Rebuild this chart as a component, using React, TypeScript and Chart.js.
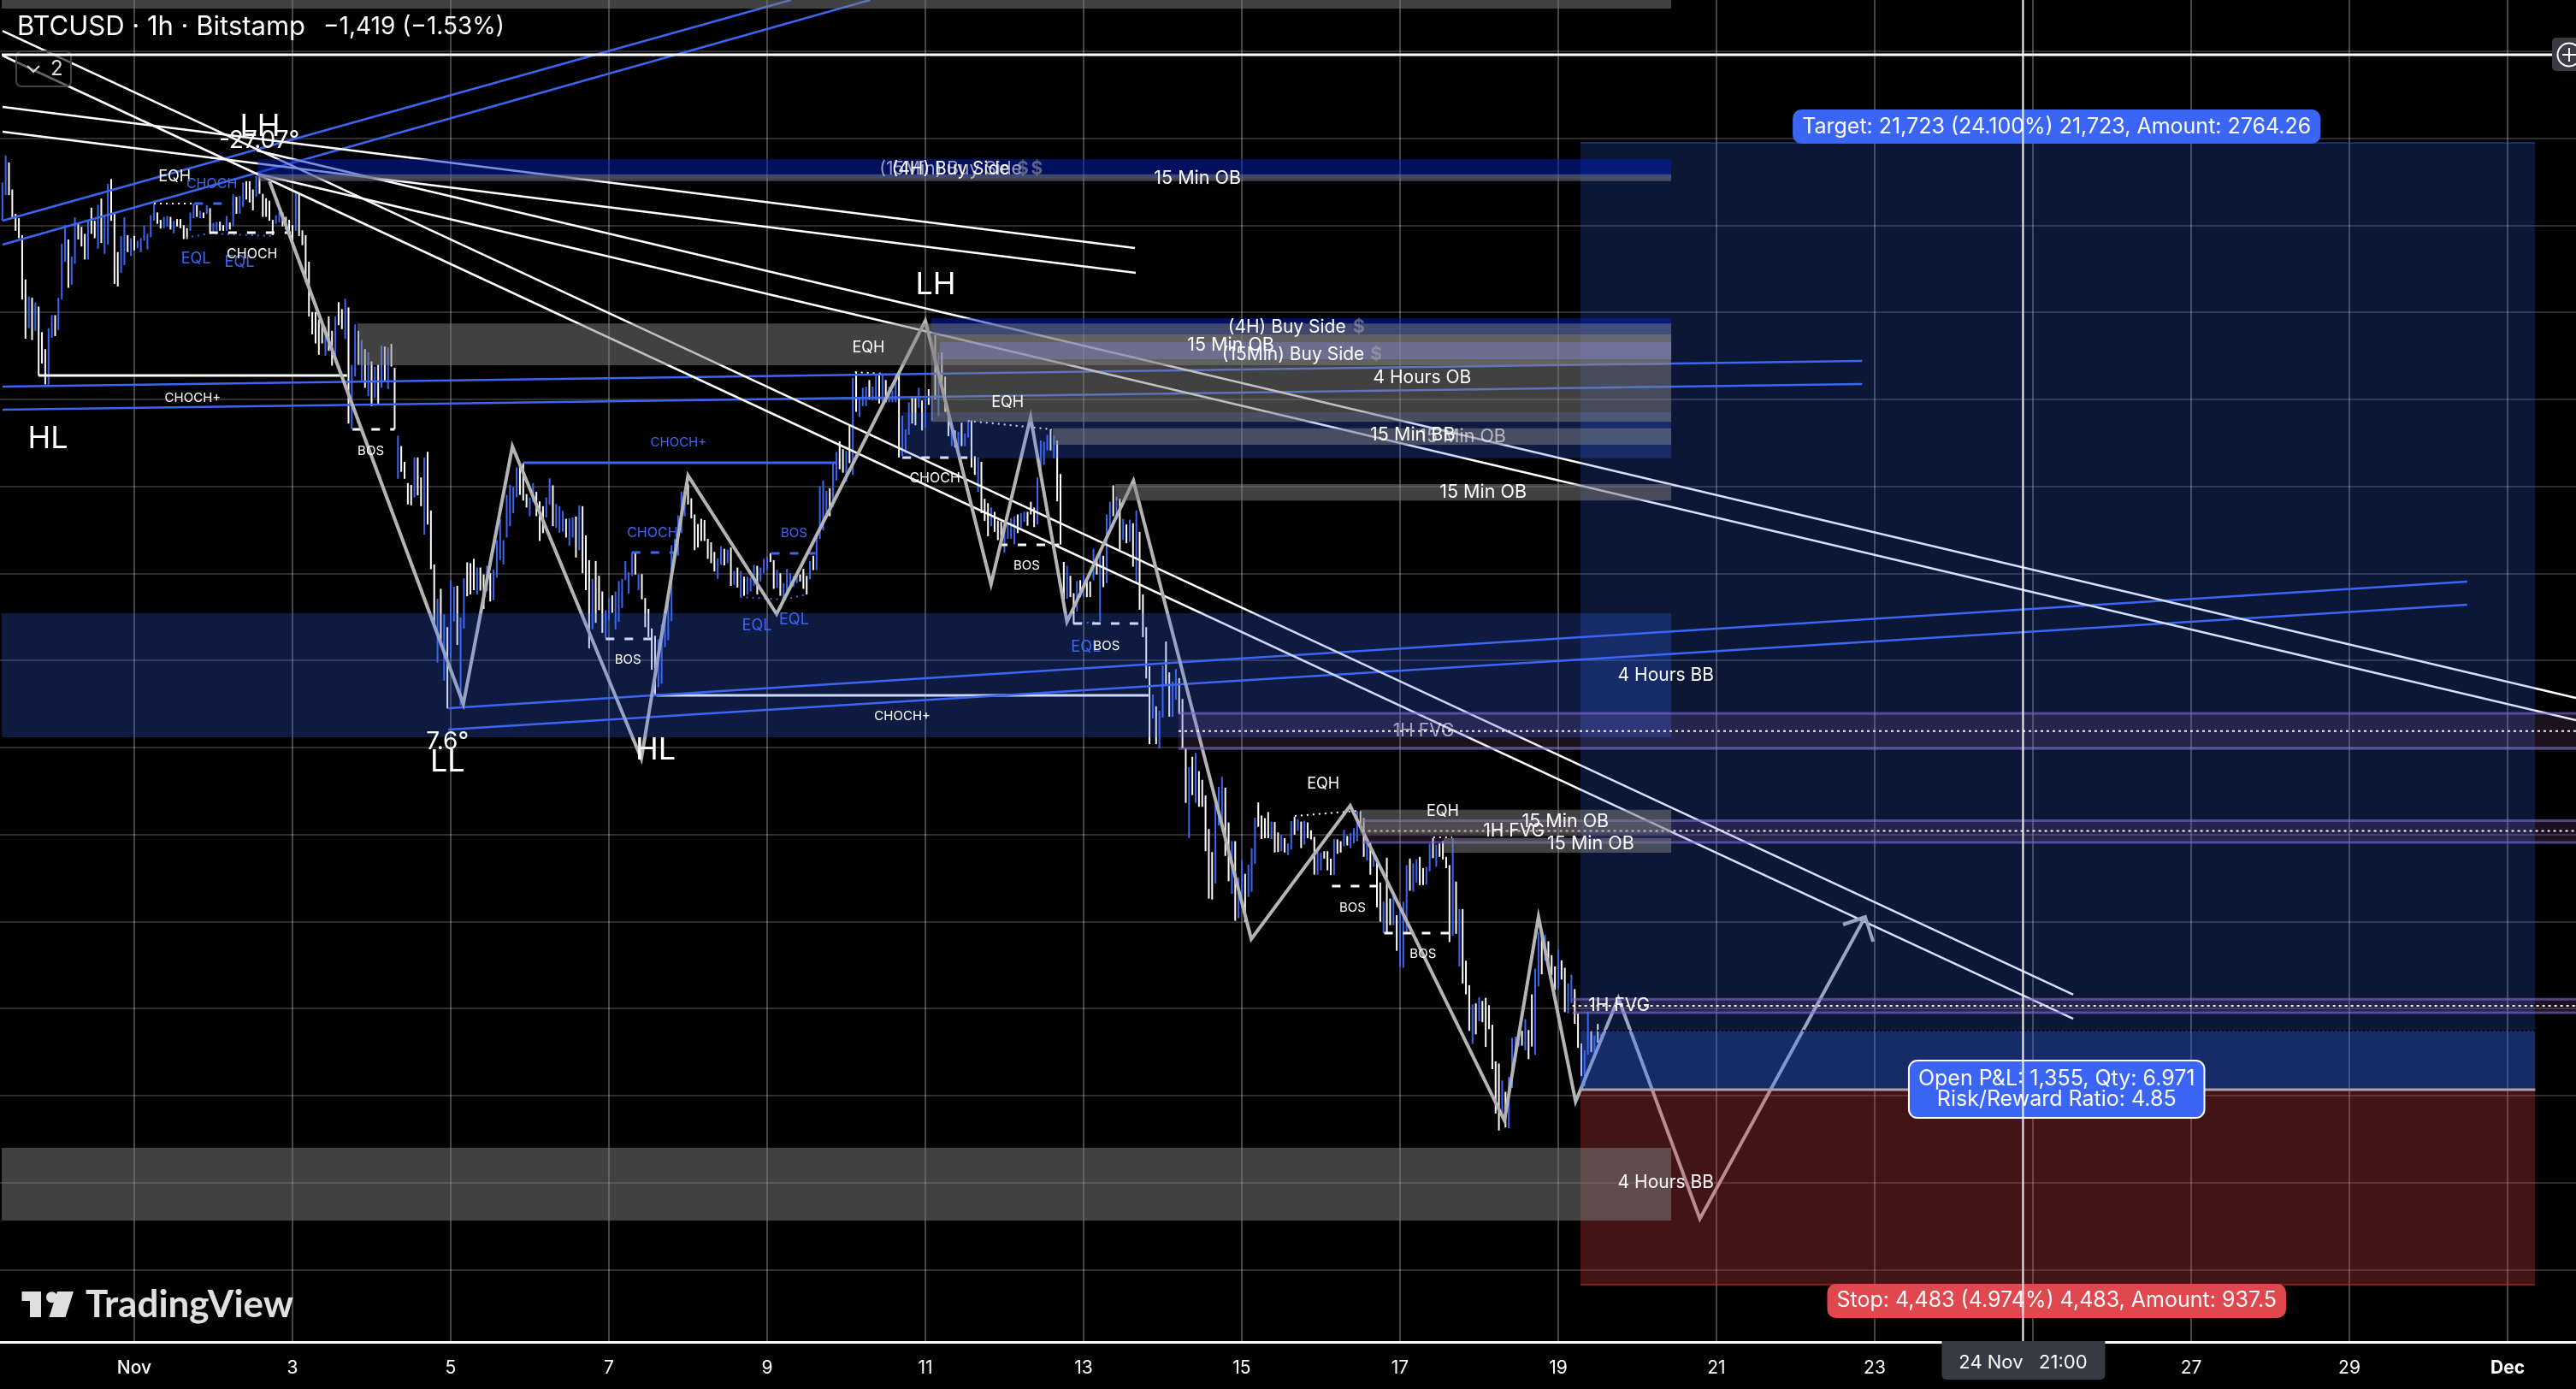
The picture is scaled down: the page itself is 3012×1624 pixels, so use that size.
import React, { useEffect, useRef } from "react";
import { Chart, registerables } from "chart.js";

Chart.register(...registerables);

const FONT = "Inter, 'Noto Sans', sans-serif";
const BLUE = "#3c66f2";
const firstBarDay = -2 / 3; // x axis is "day of November"; one bar per hour
const xMin = -0.697, xMax = 31.865, yMin = 84339, yMax = 115185;

const xTickDays = [1, 3, 5, 7, 9, 11, 13, 15, 17, 19, 21, 23, 25, 27, 29, 31];
const yTickPrices = [86000, 88000, 90000, 92000, 94000, 96000, 98000, 100000, 102000, 104000, 106000, 108000, 110000, 112000, 114000];

const barDirections = [
"bbwwwwwwbw","bwwwbbwbbb","wbbwwwbwwb","wbbwwwbbwb","wbbbbbbwwb","bwbwwwwbbw","bwbwbbwwbw","bwbbwwwbww","wwwbbwwwwb","wwwwwwwwbw",
"wbwwbwbbwb","wbwbwbwbww","bwwwwbwwbw","wwbwbwbbwb","bwwwbwwbwb","bbbbbbbwww","bbwwwbbwbb","bwbbwbwwwb","wwwbbwbbbb","bbwbwwwwwb",
"bbbbbbbbww","wwwwwwwbbw","bwbwbwbbbw","bbbwwbwbbb","bbwwwbwbbb","bwbbwwbwbw","bbbwbbwbwb","bbwbbbwwbw","bwbwbwwwbw","bwbbwwbwww",
"bwwwbbbbwb","bwwwbbbbwb","wwwbwwbwbw","wbwbwbbwbw","bwbwbwwwwb","wbbwwbbwww","bwbwwwwwbb","bwwbwbbwbb","bwwwwbwwbw","bbwbwbwwwb",
"bwwwbwwbwb","bbwwbwbwwb","wwbwbbbwbb","wwbbwbwwww","bwbwwwbwbw","wwwwwbwbbb","bwbwwbbwbw","wwbwwbbwww","bbwbwb"].join("");

const barHighs = [
110990,111610,111450,110830,110270,110170,109780,108760,108370,108340,
108230,108140,107550,107160,107640,107940,107940,108340,109580,110010,
109680,109290,110190,110070,109970,109810,110110,110410,110110,110480,
110620,110220,110960,111070,110270,109390,109760,110190,109780,109710,
109760,109650,109710,110000,109810,110240,110500,110300,110130,110200,
110220,110200,110110,110150,110150,110010,109940,110300,110500,110470,
110340,110300,110470,110400,110060,110090,110090,110010,110220,110070,
110720,110660,110680,110990,111020,111020,110830,111140,111190,110730,
110630,110570,110130,110240,110320,110300,110200,110130,110010,110760,
110730,109890,109780,109170,108010,108010,107840,107810,107680,107910,
107580,107910,108240,108080,108320,108120,106800,107730,107580,107370,
107160,107090,106880,106760,106800,107240,107220,107200,107280,106730,
105170,104930,104570,104080,104040,104670,104670,104210,104670,104800,
103450,102210,101420,101650,101060,100770,101850,101700,101720,100990,
101890,102260,102240,102340,102140,102140,101980,102180,102010,102090,
102770,103260,102770,103810,104040,103990,104440,104540,104540,103830,
103750,104080,103880,103660,103550,103750,104190,104030,103600,103550,
103440,103260,103270,103290,103310,103570,103550,102880,102310,101880,
102290,101950,101590,101160,101440,101500,101590,101830,101880,102290,
102030,102480,102470,101980,101990,101440,101190,100740,100570,100490,
100830,101160,101550,102650,102800,103340,103880,103860,104060,103730,
103360,103140,103260,103230,102800,102720,102500,102350,102630,102570,
102550,102600,102060,102140,102060,101930,101930,101910,102200,102180,
102140,102340,102390,102470,102310,102090,102010,101780,102110,102010,
101950,101980,101980,102110,101950,102290,102410,102960,104010,104140,
103900,103960,104540,104800,105040,104860,104820,105410,106500,106630,
106040,106270,106300,106450,106300,106550,106570,106600,106450,106300,
106210,106570,106570,105630,105320,105940,106040,106040,106270,105980,
106010,106240,106090,107480,107090,107090,106530,105720,105320,105290,
105260,105470,105220,105520,105520,104700,104670,104570,103720,103620,
103520,103420,103220,103190,103180,103180,103270,103320,103360,103390,
103420,103420,103650,103520,104210,105060,105030,105190,105320,105170,
105060,104290,102270,102180,101950,101550,101830,101850,101980,101880,
101820,102570,102340,102500,102410,103360,103650,104030,103770,103720,
103260,103130,103240,103160,103450,102960,101520,100770,99870,99220,
98950,98850,99890,100440,99730,99520,99810,99600,99120,97980,
97550,97790,97880,97460,97260,96900,96130,95600,96740,97100,
97330,97080,96280,95850,95850,95010,95410,95100,95310,95690,
96390,96740,96440,96380,96520,96300,96290,96050,96000,95920,
95800,96310,96410,96360,96300,96320,96280,96100,95950,95620,
95590,95620,95620,95450,95900,95890,95850,96110,95970,96040,
96150,96540,96540,96380,95820,95820,95620,95460,94900,94460,
95470,94530,94660,94150,94440,94460,95300,95450,95340,95430,
95490,95230,95260,95790,95920,95770,95800,95850,95490,95300,
95920,94920,94290,94290,93100,92540,92100,92120,92260,92180,
92250,92080,91630,90790,90740,90350,90090,90430,91330,91360,
91490,91490,91760,91510,92330,92920,93760,93760,93700,93550,
93230,92970,93350,93110,92940,92580,92780,92450,91890,91200,
91040,91930,91480,91380,91650,91420];

const barLows = [
110110,110700,110700,110170,109880,109710,108300,107400,107640,107370,
107580,106550,106830,106350,106340,107420,107460,107600,108300,109170,
108570,108640,109120,109680,109520,109220,109220,109810,109710,109470,
109600,109350,109560,110110,108660,108600,108910,109090,109390,109300,
109430,109480,109390,109650,109450,109730,110110,110040,109930,109940,
109980,109910,109820,109980,109940,109690,109690,109880,110170,110200,
110170,110170,110270,109840,109820,109880,109880,109880,109880,109910,
109980,110270,110270,110430,110600,110530,110350,110660,110730,110200,
110200,110110,109780,110040,110070,109980,109910,109840,109520,109880,
109760,109550,108700,107910,107500,107290,107030,107290,107010,107120,
106780,106930,107710,107620,107390,105450,105320,106530,106800,106440,
106270,106080,105850,106040,105870,106270,106440,106240,106760,105320,
104180,104340,104180,103590,103570,103750,103800,103550,102900,103130,
102100,100770,99950,100340,99540,98900,100050,100900,100360,98970,
100740,101480,101520,101620,101520,101610,101190,101590,101360,101390,
101910,102310,102210,102830,103090,103390,103760,103810,103680,103520,
103320,103650,103320,102750,102930,103290,103590,103090,103050,102940,
102960,102830,102640,102830,102370,102540,102010,101620,100280,100720,
100870,101160,100640,100520,100930,101100,100720,100890,101210,101850,
101540,101950,101980,101620,101410,100770,100540,99790,99210,99390,
99470,100310,100470,100910,102270,102410,102930,103320,103590,103270,
102540,102600,102750,102750,102340,102240,102050,101880,102210,102190,
102240,101720,101740,101680,101460,101490,101520,101590,101720,101520,
101820,102010,102080,102270,101650,101670,101490,101390,101550,101650,
101700,101780,101820,101650,101520,101870,102080,102080,102800,102990,
103320,103320,103530,104140,104400,104320,104110,104540,104270,105720,
105600,105850,105850,106010,105980,105980,105910,105880,105940,105940,
105940,105940,104670,104700,104770,105190,105450,105410,105810,105290,
105360,105880,105520,106010,105620,106340,105720,105160,104930,104900,
104770,104930,104930,105130,104440,104270,103880,103390,103210,102860,
103090,102960,102770,102670,102480,102800,102800,102670,102930,103060,
103190,103100,103360,103070,103130,104140,104500,104830,104830,104650,
103660,102670,101360,101420,101460,100850,101130,101460,101460,101460,
101460,101850,101980,100900,101690,101780,102930,103320,103290,102550,
102770,102700,102730,102160,101760,101170,100540,99590,98080,98670,
98080,97980,98690,99460,98710,98710,99100,98770,97980,96730,
95920,96910,96730,96640,96640,95620,94530,94510,94880,96210,
96210,95510,94930,94640,94020,94080,94570,93990,94570,94690,
95330,96180,95900,95920,95920,95900,95590,95600,95620,95590,
95530,95660,96000,96080,95690,95770,95920,95890,95080,95080,
95180,95450,95180,95070,95070,95560,95590,95730,95750,95690,
95800,95850,96130,95490,95410,95080,95260,94330,94000,93740,
93740,93920,93920,93330,92960,92940,93740,94710,94690,94900,
94840,94840,94850,95160,95460,95260,95490,95430,95230,93530,
93680,93720,92970,92580,92330,91490,91190,91410,91710,91690,
91120,91530,90610,89590,89200,89560,89270,89250,90180,90790,
91130,91150,91040,90840,91130,90940,92510,92790,93100,92960,
92770,92430,92450,92670,91920,91890,92130,91650,91100,90450,
90220,90940,91000,90980,91220,91280];

// Each entry: [day from, day to, price top, price bottom]
const targetBox = [19.28, 31.35, 111900, 90140];
const stopBox = [19.28, 31.35, 90140, 85655];
const navyBoxes = [[2.56, 20.43, 111530, 111080], [11.07, 20.43, 107870, 107500]];
const blueBoxes = [[-0.675, 20.43, 101090, 98240], [10.71, 20.43, 105710, 104650], [19.28, 31.35, 91495, 90140]];
const fvgBoxes = [[14.2, 31.865, 98790, 97980], [16.52, 31.865, 96320, 95820], [19.18, 31.865, 92220, 91910]];
const fvgMidPrices = [98380, 96085, 92065];
const grayBoxes = [
  [-0.675, 20.43, 115185, 114990], [2.56, 20.43, 111180, 111020], [3.82, 20.43, 107750, 106790],
  [11.07, 20.43, 107500, 105490], [12.61, 20.43, 105340, 104960], [13.4, 20.43, 104060, 103680],
  [16.49, 20.43, 96570, 96020], [17.55, 20.43, 95920, 95585], [-0.675, 20.43, 88800, 87130],
];
const lavenderBoxes = [[11.18, 20.43, 107320, 106930]];

// Trend lines: [day, price, day, price]
const whiteTrends = [
  [2.55, 111725, 31.865, 99142], [2.55, 111194, 31.865, 98631],
  [-0.665, 114477, 25.51, 92321], [-0.665, 113907, 25.51, 91770],
  [-0.665, 112727, 13.65, 109484], [-0.665, 112157, 13.66, 108913],
];
const blueTrends = [
  [-0.665, 110113, 9.3, 115185], [-0.665, 109562, 10.3, 115185],
  [-0.665, 106299, 22.84, 106889], [-0.665, 105768, 22.84, 106358],
  [4.97, 98906, 30.49, 101816], [4.97, 98415, 30.49, 101285],
];

const swingDays = [2.71, 5.16, 5.78, 7.41, 8.0, 9.12, 11.0, 11.83, 12.33, 12.79, 13.63, 15.12, 16.37, 18.32, 18.75, 19.22, 19.76, 20.79, 22.88];
const swingPrices = [111017, 99005, 104922, 97747, 104254, 101069, 107813, 101757, 105591, 100892, 104136, 93598, 96665, 89430, 94110, 89863, 92242, 87169, 94110];
const arrowDays = [22.6, 22.88, 22.98];
const arrowPrices = [93933, 94110, 93540];

// Structure lines: [day from, day to, price from, price to]
const solidWhite = [[-0.21, 3.69, 106554, 106554], [7.6, 13.82, 99202, 99202]];
const solidBlue = [[5.92, 9.87, 104549, 104549]];
const dashedWhite = [
  [3.76, 4.29, 105316, 105316], [1.95, 2.98, 109837, 109837], [6.96, 7.55, 100499, 100499],
  [10.71, 11.54, 104667, 104667], [11.93, 12.69, 102662, 102662], [12.87, 13.7, 100853, 100853],
  [16.14, 16.71, 94817, 94817], [16.8, 17.63, 93736, 93736],
];
const dashedBlue = [[1.76, 2.24, 110506, 110506], [7.29, 7.82, 102485, 102485], [9.05, 9.61, 102465, 102465]];
const dottedWhite = [
  [1.25, 1.76, 110506, 110506], [10.11, 10.46, 106633, 106594], [11.54, 12.6, 105512, 105316],
  [15.67, 16.46, 96429, 96547], [17.42, 17.66, 95938, 95938],
];
const dottedBlue = [
  [1.65, 1.95, 109720, 109818], [1.95, 2.74, 109818, 109759],
  [8.66, 9.22, 101462, 101403], [9.22, 9.49, 101403, 101521], [12.89, 13.19, 100853, 100892],
];

const crosshairDay = 24.875;
const crosshairPrice = 113927;
const entryPrice = 90140;
const entryDottedPrice = 91495;

// Labels: [text, day, price, size, colour]
const W = "#ffffff";
const FADE = "rgba(255,255,255,0.6)";
const DOLLAR = "rgba(170,170,170,0.55)";
const chartLabels: [string, number, number, number, string][] = [
  ["LH", 2.59, 112275, 36, W], ["-27.07°", 2.58, 111941, 28, W], ["EQH", 1.51, 111115, 18, W],
  ["CHOCH", 1.98, 110958, 16, BLUE], ["EQL", 1.78, 109228, 18, BLUE], ["EQL", 2.33, 109150, 18, BLUE],
  ["CHOCH", 2.49, 109346, 16, W], ["CHOCH+", 1.74, 106043, 15, W], ["HL", -0.09, 105099, 36, W],
  ["BOS", 3.99, 104824, 15, W], ["CHOCH+", 7.88, 105021, 15, BLUE], ["CHOCH", 7.55, 102937, 16, BLUE],
  ["BOS", 9.34, 102937, 15, BLUE], ["BOS", 7.24, 100027, 15, W], ["EQL", 8.87, 100794, 18, BLUE],
  ["EQL", 9.34, 100932, 18, BLUE], ["7.6°", 4.96, 98120, 28, W], ["LL", 4.96, 97668, 36, W],
  ["HL", 7.59, 97943, 36, W], ["EQH", 10.28, 107183, 18, W], ["EQH", 12.04, 105925, 18, W],
  ["CHOCH", 11.12, 104195, 16, W], ["BOS", 12.28, 102190, 15, W], ["EQL", 13.03, 100302, 18, BLUE],
  ["BOS", 13.29, 100342, 15, W], ["CHOCH+", 10.71, 98730, 15, W], ["LH", 11.13, 108638, 36, W],
  ["EQH", 16.03, 97157, 18, W], ["EQH", 17.54, 96528, 18, W], ["BOS", 16.4, 94326, 15, W], ["BOS", 17.29, 93264, 15, W],
  ["(15Min) Buy Side", 11.32, 111292, 21, FADE], ["$", 12.41, 111292, 21, DOLLAR], ["(4H) Buy Side", 11.32, 111292, 21, W], ["$", 12.23, 111292, 21, DOLLAR],
  ["15 Min OB", 14.44, 111076, 21.5, W], ["(4H) Buy Side", 15.57, 107655, 21, W], ["$", 16.48, 107655, 21, DOLLAR],
  ["15 Min OB", 14.86, 107242, 21.5, W], ["(15Min) Buy Side", 15.65, 107026, 21, W], ["$", 16.7, 107026, 21, DOLLAR],
  ["4 Hours OB", 17.28, 106495, 21, W], ["15 Min BB", 17.16, 105178, 21.5, W], ["15 Min OB", 17.79, 105139, 21.5, FADE],
  ["15 Min OB", 18.05, 103861, 21.5, W], ["4 Hours BB", 20.36, 99654, 21, W], ["1H FVG", 17.3, 98376, 21, FADE],
  ["1H FVG", 18.44, 96076, 21, W], ["15 Min OB", 19.09, 96311, 21.5, W], ["15 Min OB", 19.41, 95781, 21.5, W],
  ["1H FVG", 19.77, 92065, 21, W], ["4 Hours BB", 20.36, 88006, 21, W],
];

// Pills: [lines, day, price, fill, border, height]
const pills: [string[], number, number, string, string | null, number][] = [
  [["Target: 21,723 (24.100%) 21,723, Amount: 2764.26"], 25.3, 112275, "#3b66f5", null, 40],
  [["Open P&L: 1,355, Qty: 6.971", "Risk/Reward Ratio: 4.85"], 25.3, 90147, "#3b66f5", "#ffffff", 67],
  [["Stop: 4,483 (4.974%) 4,483, Amount: 937.5"], 25.3, 85283, "#e0474f", null, 40],
];

const headerTitle = "BTCUSD · 1h · Bitstamp";
const headerChange = "−1,419 (−1.53%)";
const crosshairDateLabel = "24 Nov   21:00";

const boxData = (b: number[]) => [{ x: b[0], y: b[2] }, { x: b[1], y: b[2] }];
const boxDs = (b: number[], color: string, order: number) => ({
  type: "line" as const, data: boxData(b), fill: { value: b[3] }, backgroundColor: color,
  borderWidth: 0, pointRadius: 0, order,
});
const lineDs = (pts: { x: number; y: number }[], color: string, width: number, order: number, dash: number[] = []) => ({
  type: "line" as const, data: pts, borderColor: color, borderWidth: width, borderDash: dash,
  pointRadius: 0, fill: false, tension: 0, order, borderJoinStyle: "miter" as const,
});
const seg = (s: number[]) => [{ x: s[0], y: s[2] }, { x: s[1], y: s[3] }];
const trend = (t: number[]) => [{ x: t[0], y: t[1] }, { x: t[2], y: t[3] }];

function roundRect(ctx: CanvasRenderingContext2D, x: number, y: number, w: number, h: number, r: number | number[]) {
  ctx.beginPath();
  ctx.roundRect(x, y, w, h, r);
}

function drawOverlayText(chart: any) {
  const { ctx, scales } = chart;
  const sx = scales.x, sy = scales.y;
  ctx.save();
  ctx.textAlign = "center";
  ctx.textBaseline = "middle";
  for (const [text, d, p, size, color] of chartLabels) {
    ctx.font = `${text === "$" ? "700 " : ""}${size}px ${FONT}`;
    ctx.fillStyle = color;
    ctx.fillText(text, sx.getPixelForValue(d), sy.getPixelForValue(p));
  }
  ctx.font = `25px ${FONT}`;
  for (const [lines, d, p, fill, border, h] of pills) {
    const widest = Math.max(...lines.map((l) => ctx.measureText(l).width));
    const w = widest + 22;
    const cx = sx.getPixelForValue(d), cy = sy.getPixelForValue(p);
    roundRect(ctx, cx - w / 2, cy - h / 2, w, h, 10);
    ctx.fillStyle = fill;
    ctx.fill();
    if (border) {
      ctx.strokeStyle = border;
      ctx.lineWidth = 2;
      ctx.stroke();
    }
    ctx.fillStyle = "#fff";
    lines.forEach((l, i) => ctx.fillText(l, cx, cy + (i - (lines.length - 1) / 2) * 24));
  }
  // header
  ctx.textAlign = "left";
  ctx.fillStyle = "#fff";
  ctx.font = `31px ${FONT}`;
  ctx.fillText(headerTitle, 20, 32);
  ctx.font = `28px ${FONT}`;
  ctx.fillText(headerChange, 378, 32);
  // collapse button
  roundRect(ctx, 19, 60, 64, 41, 6);
  ctx.fillStyle = "rgba(0,0,0,0.6)";
  ctx.fill();
  ctx.strokeStyle = "#444";
  ctx.lineWidth = 2;
  ctx.stroke();
  ctx.strokeStyle = "#ddd";
  ctx.beginPath();
  ctx.moveTo(32, 77); ctx.lineTo(39, 84); ctx.lineTo(46, 77);
  ctx.stroke();
  ctx.fillStyle = "#ddd";
  ctx.font = `24px ${FONT}`;
  ctx.fillText("2", 59, 81);
  // TradingView mark
  ctx.fillStyle = "#e0e0e0";
  ctx.fillRect(25.5, 1510, 22.5, 11);
  ctx.fillRect(35, 1521, 13, 19);
  ctx.beginPath(); ctx.arc(60.5, 1516.7, 6.5, 0, Math.PI * 2); ctx.fill();
  ctx.beginPath(); ctx.moveTo(67, 1510); ctx.lineTo(86, 1510); ctx.lineTo(76.5, 1540); ctx.lineTo(57.4, 1540); ctx.closePath(); ctx.fill();
  ctx.font = `700 44px Lato, ${FONT}`;
  ctx.fillText("TradingView", 100, 1526);
  ctx.restore();
}

const overlayPlugin = {
  id: "overlay",
  beforeDatasetDraw(chart: any, args: any) {
    if (chart.data.datasets[args.index].isCrosshairBase) drawOverlayText(chart);
  },
  afterDraw(chart: any) {
    const { ctx, scales } = chart;
    const cx = scales.x.getPixelForValue(crosshairDay);
    ctx.save();
    // date chip on the axis
    ctx.beginPath();
    ctx.roundRect(cx - 95, 1568, 191, 45, [0, 0, 5, 5]);
    ctx.fillStyle = "#363a45";
    ctx.fill();
    ctx.fillStyle = "#fff";
    ctx.font = `22px ${FONT}`;
    ctx.textAlign = "center";
    ctx.textBaseline = "middle";
    ctx.fillText(crosshairDateLabel, cx, 1593);
    // plus button on the crosshair's right end
    const cy = scales.y.getPixelForValue(crosshairPrice);
    ctx.beginPath();
    ctx.roundRect(2984, cy - 20, 40, 39, 5);
    ctx.fillStyle = "#3a3a45";
    ctx.fill();
    ctx.strokeStyle = "#fff";
    ctx.lineWidth = 2;
    ctx.beginPath();
    ctx.arc(3004, cy, 13.5, 0, Math.PI * 2);
    ctx.moveTo(2996, cy); ctx.lineTo(3012, cy);
    ctx.moveTo(3004, cy - 8); ctx.lineTo(3004, cy + 8);
    ctx.stroke();
    ctx.restore();
  },
};

export default function App() {
  const ref = useRef<HTMLCanvasElement | null>(null);
  useEffect(() => {
    document.body.style.margin = "0";
    document.body.style.background = "#000";
    const bars = barHighs.map((h, i) => ({ x: firstBarDay + i / 24, y: [barLows[i], h] }));
    const barColors = bars.map((_, i) => (barDirections[i] === "b" ? BLUE : "#ffffff"));
    const datasets: any[] = [];
    datasets.push({
      type: "bar", data: bars, backgroundColor: barColors, barThickness: 2, borderWidth: 0,
      grouped: false, inflateAmount: 0, order: 400,
    });
    solidWhite.forEach((s) => datasets.push(lineDs(seg(s), "#ffffff", 3, 390)));
    solidBlue.forEach((s) => datasets.push(lineDs(seg(s), BLUE, 3, 390)));
    dashedWhite.forEach((s) => datasets.push(lineDs(seg(s), "#ffffff", 3, 390, [10, 12])));
    dashedBlue.forEach((s) => datasets.push(lineDs(seg(s), BLUE, 3, 390, [10, 12])));
    dottedWhite.forEach((s) => datasets.push(lineDs(seg(s), "#ffffff", 2, 390, [2, 5])));
    dottedBlue.forEach((s) => datasets.push(lineDs(seg(s), BLUE, 2, 390, [2, 5])));
    blueTrends.forEach((t) => datasets.push(lineDs(trend(t), BLUE, 2.5, 380)));
    whiteTrends.forEach((t) => datasets.push(lineDs(trend(t), "#ffffff", 2.5, 370)));
    datasets.push(lineDs(swingDays.map((x, i) => ({ x, y: swingPrices[i] })), "#b4b4b4", 4, 360));
    datasets.push(lineDs(arrowDays.map((x, i) => ({ x, y: arrowPrices[i] })), "#b4b4b4", 4, 360));

    datasets.push(boxDs(targetBox, "rgba(57,110,255,0.21)", 300));
    datasets.push(boxDs(stopBox, "rgba(200,60,62,0.335)", 299));
    datasets.push(lineDs(seg([targetBox[0], targetBox[1], targetBox[2], targetBox[2]]), "rgba(57,110,255,0.35)", 2, 298));
    datasets.push(lineDs(seg([stopBox[0], stopBox[1], stopBox[3], stopBox[3]]), "rgba(200,50,50,0.55)", 2, 298));
    navyBoxes.forEach((b) => datasets.push(boxDs(b, "rgba(0,30,188,0.5)", 297)));
    blueBoxes.forEach((b) => datasets.push(boxDs(b, "rgba(56,104,255,0.25)", 296)));
    fvgBoxes.forEach((b, i) => {
      datasets.push(boxDs(b, "rgba(160,110,190,0.16)", 295));
      datasets.push(lineDs(seg([b[0], b[1], b[2], b[2]]), "rgba(125,105,210,0.6)", 3, 294));
      datasets.push(lineDs(seg([b[0], b[1], b[3], b[3]]), "rgba(125,105,210,0.6)", 3, 294));
      datasets.push(lineDs(seg([b[0], b[1], fvgMidPrices[i], fvgMidPrices[i]]), "rgba(255,255,255,0.95)", 2, 294, [3, 4]));
    });
    grayBoxes.forEach((b) => datasets.push(boxDs(b, "rgba(130,130,130,0.5)", 293)));
    lavenderBoxes.forEach((b) => datasets.push(boxDs(b, "rgba(140,140,255,0.3)", 292)));
    datasets.push(lineDs(seg([targetBox[0], targetBox[1], entryDottedPrice, entryDottedPrice]), "#000000", 2, 291, [2, 3]));
    datasets.push(lineDs(seg([targetBox[0], targetBox[1], entryPrice, entryPrice]), "rgb(170,162,168)", 3, 290));
    datasets.push({ ...lineDs(seg([-0.675, xMax, crosshairPrice, crosshairPrice]), "#ffffff", 3, 2), isCrosshairBase: true });
    datasets.push(lineDs(seg([crosshairDay, crosshairDay, yMin, yMax]), "#ffffff", 2, 1));

    const chart = new Chart(ref.current as HTMLCanvasElement, {
      type: "line",
      data: { datasets },
      plugins: [overlayPlugin],
      options: {
        responsive: false,
        animation: false,
        events: [],
        layout: { padding: 0 },
        plugins: { legend: { display: false }, tooltip: { enabled: false } },
        scales: {
          x: {
            type: "linear", min: xMin, max: xMax, offset: false,
            grid: { offset: false, color: "rgba(255,255,255,0.27)", lineWidth: 2, drawTicks: false },
            border: { color: "#ffffff", width: 3 },
            afterBuildTicks: (s: any) => { s.ticks = xTickDays.map((value) => ({ value })); },
            afterFit: (s: any) => { s.height = 55; },
            ticks: {
              autoSkip: false, maxRotation: 0, padding: 18, color: "#ffffff",
              font: (c: any) => ({ family: FONT, size: 21, weight: c.tick && (c.tick.value === 1 || c.tick.value === 31) ? (c.tick.value === 31 ? 700 : 500) : 400 }),
              callback: (v: any) => (v === 1 ? "Nov" : v === 31 ? "Dec" : String(v)),
            },
          },
          y: {
            type: "linear", min: yMin, max: yMax,
            grid: { color: "rgba(255,255,255,0.18)", lineWidth: 2, drawTicks: false },
            border: { display: false },
            afterBuildTicks: (s: any) => { s.ticks = yTickPrices.map((value) => ({ value })); },
            afterFit: (s: any) => { s.width = 0; },
            ticks: { display: false },
          },
        },
      } as any,
    });
    return () => chart.destroy();
  }, []);
  return <canvas ref={ref} width={3012} height={1624} style={{ display: "block", position: "absolute", left: 0, top: 0, background: "#000" }} />;
}
